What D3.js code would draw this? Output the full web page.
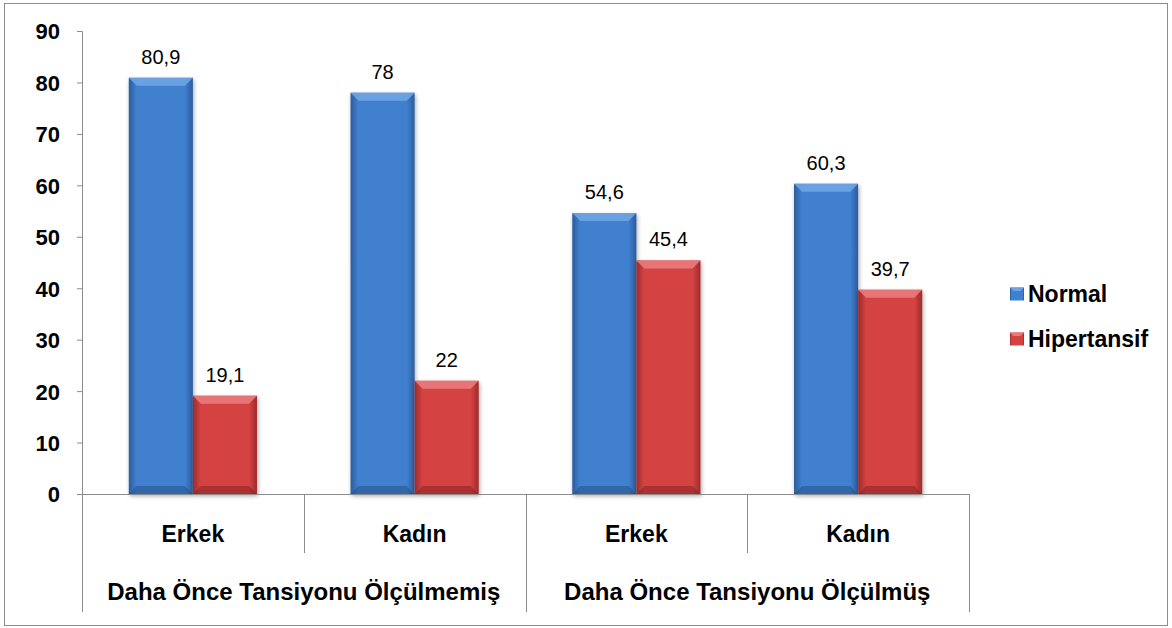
<!DOCTYPE html>
<html>
<head>
<meta charset="utf-8">
<script src="https://cdn.jsdelivr.net/npm/d3@7"></script>
<style>
	body { margin: 0; background: #fff; }
	svg { display: block; font-family: "Liberation Sans", Arial, sans-serif; }
	svg text { font-family: "Liberation Sans", Arial, sans-serif; }
</style>
</head>
<body>
<div id="chart"></div>
<script>
// Data
const groups = ["Daha Önce Tansiyonu Ölçülmemiş", "Daha Önce Tansiyonu Ölçülmüş"];
const subCategories = ["Erkek", "Kadın", "Erkek", "Kadın"];
const categoryGroup = [0, 0, 1, 1];
const seriesNames = ["Normal", "Hipertansif"];
const normalValues = [80.9, 78, 54.6, 60.3];
const hipertansifValues = [19.1, 22, 45.4, 39.7];
const valueLabels = [
	["80,9", "78", "54,6", "60,3"],
	["19,1", "22", "45,4", "39,7"],
];
const yTicks = [0, 10, 20, 30, 40, 50, 60, 70, 80, 90];

const W = 1172, H = 628;
const plot = { left: 82, right: 969, top: 31, bottom: 494 };

const svg = d3.select("#chart").append("svg").attr("width", W).attr("height", H);

// outer border
svg.append("rect")
	.attr("x", 4.5).attr("y", 3.5)
	.attr("width", 1163).attr("height", 622)
	.attr("fill", "#fff").attr("stroke", "#8c8c8c").attr("stroke-width", 1);

const defs = svg.append("defs");
const palette = {
	Normal: { edge: "#2b5b9c", mid: "#3f80cf", top: "#6fa4e4", bottom: "#25508a" },
	Hipertansif: { edge: "#9c2b2b", mid: "#d44242", top: "#ea7b7b", bottom: "#872424" },
};
seriesNames.forEach((s) => {
	const g = defs.append("linearGradient").attr("id", "grad-" + s)
		.attr("x1", "0").attr("x2", "1").attr("y1", "0").attr("y2", "0");
	g.append("stop").attr("offset", "0").attr("stop-color", palette[s].edge);
	g.append("stop").attr("offset", "0.12").attr("stop-color", palette[s].mid);
	g.append("stop").attr("offset", "0.88").attr("stop-color", palette[s].mid);
	g.append("stop").attr("offset", "1").attr("stop-color", palette[s].edge);
});
defs.append("filter").attr("id", "shadow")
	.attr("x", "-20%").attr("y", "-10%").attr("width", "140%").attr("height", "125%")
	.append("feDropShadow").attr("dx", 1).attr("dy", 2).attr("stdDeviation", 2)
	.attr("flood-color", "#000").attr("flood-opacity", 0.35);

// Scales
const x0 = d3.scaleBand().domain(d3.range(subCategories.length))
	.range([plot.left, plot.right]).paddingInner(0).paddingOuter(0);
const x1 = d3.scaleBand().domain(seriesNames)
	.range([0, x0.bandwidth()]).paddingInner(0).paddingOuter(0.73);
const y = d3.scaleLinear().domain([0, 90]).range([plot.bottom, plot.top]);

const rows = subCategories.map((c, i) => ({
	i, values: [
		{ key: "Normal", v: normalValues[i], label: valueLabels[0][i] },
		{ key: "Hipertansif", v: hipertansifValues[i], label: valueLabels[1][i] },
	],
}));

// Y axis
const yAxis = svg.append("g").attr("transform", `translate(${plot.left},0)`)
	.call(d3.axisLeft(y).tickValues(yTicks).tickSize(5).tickPadding(17));
yAxis.attr("font-family", "Liberation Sans, Arial, sans-serif");
yAxis.select(".domain").attr("stroke", "#8c8c8c");
yAxis.selectAll(".tick line").attr("stroke", "#8c8c8c");
yAxis.selectAll(".tick text")
	.attr("font-size", 22).attr("font-weight", "bold").attr("fill", "#000")
	.attr("dy", "0.36em");

// Bars
const cat = svg.selectAll(".cat").data(rows).enter().append("g")
	.attr("transform", (d) => `translate(${x0(d.i)},0)`);

const bar = cat.selectAll(".bar").data((d) => d.values).enter().append("g");
const bw = x1.bandwidth();
const bev = 8;

bar.append("rect")
	.attr("x", (d) => x1(d.key)).attr("y", (d) => y(d.v))
	.attr("width", bw).attr("height", (d) => y(0) - y(d.v))
	.attr("fill", (d) => `url(#grad-${d.key})`)
	.attr("filter", "url(#shadow)");
// top bevel
bar.append("path")
	.attr("d", (d) => {
		const xa = x1(d.key), ya = y(d.v);
		return `M${xa},${ya}L${xa + bw},${ya}L${xa + bw - bev},${ya + bev}L${xa + bev},${ya + bev}Z`;
	})
	.attr("fill", (d) => palette[d.key].top).attr("opacity", 0.9);
// bottom bevel
bar.append("path")
	.attr("d", (d) => {
		const xa = x1(d.key), yb = y(0);
		return `M${xa},${yb}L${xa + bw},${yb}L${xa + bw - bev},${yb - bev}L${xa + bev},${yb - bev}Z`;
	})
	.attr("fill", (d) => palette[d.key].bottom).attr("opacity", 0.55);

// Value labels
bar.append("text")
	.attr("x", (d) => x1(d.key) + bw / 2)
	.attr("y", (d) => y(d.v) - 14)
	.attr("text-anchor", "middle")
	.attr("font-size", 20).attr("fill", "#000")
	.text((d) => d.label);

// X axis: baseline and separators
const axisColor = "#8c8c8c";
svg.append("line")
	.attr("x1", plot.left).attr("x2", plot.right)
	.attr("y1", y(0) + 0.5).attr("y2", y(0) + 0.5)
	.attr("stroke", axisColor);

const bounds = d3.range(subCategories.length + 1);
svg.selectAll(".sep").data(bounds).enter().append("line")
	.attr("x1", (b) => Math.round(b === subCategories.length ? plot.right : x0(b)) + 0.5)
	.attr("x2", (b) => Math.round(b === subCategories.length ? plot.right : x0(b)) + 0.5)
	.attr("y1", y(0))
	.attr("y2", (b) => (b % 2 === 0 ? 612 : 553))
	.attr("stroke", axisColor);

svg.selectAll(".cat-label").data(subCategories).enter().append("text")
	.attr("x", (d, i) => x0(i) + x0.bandwidth() / 2)
	.attr("y", 542)
	.attr("text-anchor", "middle")
	.attr("font-size", 23).attr("font-weight", "bold")
	.text((d) => d);

svg.selectAll(".group-label").data(groups).enter().append("text")
	.attr("x", (d, gi) => {
		const idx = categoryGroup.map((g, i) => (g === gi ? i : -1)).filter((i) => i >= 0);
		return (x0(idx[0]) + x0(idx[idx.length - 1]) + x0.bandwidth()) / 2;
	})
	.attr("y", 600)
	.attr("text-anchor", "middle")
	.attr("font-size", 24).attr("font-weight", "bold")
	.text((d) => d);

// Legend
const legend = svg.append("g").attr("transform", "translate(1010,0)");
const legendY = d3.scalePoint().domain(seriesNames).range([301.5, 346.5]);
const li = legend.selectAll(".li").data(seriesNames).enter().append("g")
	.attr("transform", (d) => `translate(0,${legendY(d)})`);
li.append("rect")
	.attr("x", 0).attr("y", -14).attr("width", 14).attr("height", 13)
	.attr("fill", (d) => `url(#grad-${d})`);
li.append("path")
	.attr("d", "M0,-14L14,-14L10.5,-10.5L3.5,-10.5Z")
	.attr("fill", (d) => palette[d].top);
li.append("text")
	.attr("x", 18).attr("y", 0)
	.attr("font-size", 23).attr("font-weight", "bold")
	.text((d) => d);
</script>
</body>
</html>
